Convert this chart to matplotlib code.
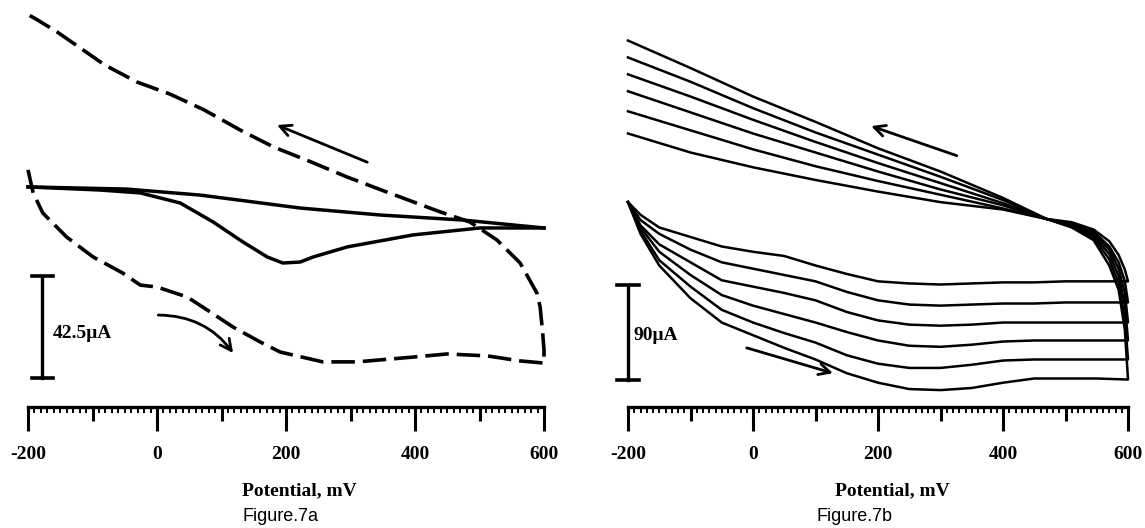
import matplotlib
matplotlib.use("Agg")
import matplotlib.pyplot as plt
from matplotlib.ticker import MultipleLocator

#########################################
# DATA  (potential in mV, current in uA)
#########################################
# Figure 7a, solid CV
a_solid_fwd_mv = [-200, -88, -26, 36, 87, 133, 171, 195, 222, 242, 295, 397, 501, 600]
a_solid_fwd_ua = [91.7, 90.4, 89.2, 85.0, 77.1, 68.8, 62.5, 60.0, 60.4, 62.5, 66.7, 71.7, 74.6, 74.6]
a_solid_rev_mv = [600, 474, 346, 222, 67, -47, -200]
a_solid_rev_ua = [74.6, 77.9, 80.0, 82.9, 88.3, 90.8, 91.7]

# Figure 7a, dashed CV
a_dash_fwd_mv = [-200, -192, -177, -140, -99, -53, -26, 0, 47, 78, 118, 160, 191, 257, 310,
                 397, 450, 512, 563, 600]
a_dash_fwd_ua = [98.8, 89.2, 80.8, 70.8, 62.5, 55.8, 50.8, 50.0, 45.8, 40.4, 33.3, 27.1, 22.9,
                 18.8, 18.8, 20.8, 22.1, 21.3, 19.2, 18.3]
a_dash_rev_mv = [600, 600, 598, 594, 589, 563, 527, 485, 439, 352, 295, 239, 181, 129, 73, 20,
                 -31, -81, -119, -155, -188, -200]
a_dash_rev_ua = [18.3, 23.8, 30.8, 41.7, 47.5, 60.0, 69.6, 77.1, 81.3, 90.0, 95.8, 102.1, 108.3,
                 115.4, 123.8, 130.4, 135.4, 142.5, 149.6, 156.3, 161.7, 163.5]

# Figure 7b, six cycles, outermost first
b_fwd_mv = [-200, -180, -150, -100, -50, 0, 50, 100, 150, 200, 250, 300, 350, 400, 450, 500, 550, 600]
b_fwd_ua = [
    [194, 164, 134, 103, 80, 68, 56, 45, 32, 23, 17, 16, 18, 23, 27, 27, 27, 26],
    [194, 167, 139, 114, 92, 80, 70, 61, 49, 41, 37, 37, 40, 44, 45, 45, 45, 45],
    [194, 170, 147, 125, 106, 96, 88, 80, 71, 63, 58, 57, 59, 62, 63, 63, 63, 63],
    [194, 172, 154, 137, 120, 114, 108, 101, 90, 82, 78, 77, 78, 80, 80, 80, 80, 80],
    [194, 177, 164, 149, 137, 131, 125, 119, 109, 101, 97, 96, 97, 98, 98, 99, 99, 99],
    [194, 182, 170, 161, 152, 147, 143, 134, 126, 119, 117, 116, 117, 118, 118, 119, 119, 119],
]
b_rev_right_mv = [600, 595, 585, 570, 545, 510]
b_rev_right_ua = [
    [26, 73, 111, 134, 158, 170],
    [45, 84, 117, 140, 160, 171],
    [63, 97, 124, 145, 162, 172],
    [80, 108, 131, 149, 164, 173],
    [99, 119, 137, 152, 166, 174],
    [119, 130, 144, 157, 168, 175],
]
b_rev_left_mv = [470, 400, 300, 200, 100, 0, -100, -200]
b_rev_left_ua = [
    [178, 198, 223, 245, 270, 294, 321, 347],
    [178, 196, 218, 239, 260, 283, 308, 331],
    [178, 193, 212, 231, 251, 272, 294, 315],
    [178, 191, 206, 223, 241, 259, 279, 299],
    [178, 188, 201, 214, 228, 244, 262, 280],
    [178, 187, 194, 204, 215, 227, 241, 259],
]

# scan direction arrows (tail, head, curvature)
a_arrows = [((326, 102), (186, 117.5), 0.0), ((2, 38.3), (118, 22.5), -0.25)]
b_arrows = [((326, 238), (189, 266), 0.0), ((-10, 56), (128, 32), 0.0)]

# scale bars: x, bottom, length, label, label x, label y
a_bar = (-178, 12.1, 42.5, "42.5\u03bcA", -161, 30.8)
b_bar = (-200, 25.6, 90.0, "90\u03bcA", -192, 68.0)

xticks_major = [-200, -100, 0, 100, 200, 300, 400, 500, 600]

#########################################
# FIGURE
#########################################
fig = plt.figure(figsize=(11.45, 5.28), dpi=100)
axa = fig.add_axes([28/1145, 121/528, 516/1145, 407/528])
axb = fig.add_axes([628/1145, 121/528, 500/1145, 407/528])

serif = ['Liberation Serif', 'DejaVu Serif']


def style_axis(ax, ytop):
    ax.set_xlim(-200, 600)
    ax.set_ylim(0, ytop)
    for s in ['left', 'right', 'top']:
        ax.spines[s].set_visible(False)
    ax.spines['bottom'].set_linewidth(2.4)
    ax.set_yticks([])
    ax.set_xticks(xticks_major)
    ax.set_xticklabels([str(v) if v % 200 == 0 else '' for v in xticks_major],
                       family=serif, fontweight='bold', fontsize=14)
    ax.xaxis.set_minor_locator(MultipleLocator(10))
    ax.tick_params(axis='x', which='major', direction='out', length=17, width=2.2, pad=11)
    ax.tick_params(axis='x', which='minor', direction='out', length=4.5, width=1.4)
    for v, t in zip(xticks_major, ax.xaxis.get_major_ticks()):
        if v % 200:
            t.tick1line.set_markersize(10)
    ax.patch.set_alpha(0)


def scale_bar(ax, bar, cap, fs):
    x, y0, L, txt, tx, ty = bar
    ax.plot([x, x], [y0, y0 + L], color='k', lw=2.4, clip_on=False)
    ax.plot([x - cap, x + cap], [y0, y0], color='k', lw=2.6, clip_on=False)
    ax.plot([x - cap, x + cap], [y0 + L, y0 + L], color='k', lw=2.6, clip_on=False)
    ax.text(tx, ty, txt, family=serif, fontweight='bold',
            fontsize=fs, va='center', ha='left')


def arrows(ax, arr):
    for tail, head, rad in arr:
        ax.annotate('', xy=head, xytext=tail,
                    arrowprops=dict(arrowstyle='->,head_length=0.8,head_width=0.4',
                                    lw=2.0, color='k', shrinkA=0, shrinkB=0,
                                    connectionstyle='arc3,rad=%g' % rad))


#########################################
# FIGURE 7a
#########################################
style_axis(axa, 407/2.4)
axa.plot(a_solid_fwd_mv, a_solid_fwd_ua, color='k', lw=2.5, solid_joinstyle='round', clip_on=False)
axa.plot(a_solid_rev_mv, a_solid_rev_ua, color='k', lw=2.5, solid_joinstyle='round', clip_on=False)
axa.plot(a_dash_fwd_mv + a_dash_rev_mv, a_dash_fwd_ua + a_dash_rev_ua, color='k', lw=2.6,
         dashes=(6.5, 2.2), clip_on=False)
scale_bar(axa, a_bar, 16, 14)
arrows(axa, a_arrows)
axa.text(0.525, -0.206, 'Potential, mV', transform=axa.transAxes, family=serif,
         fontweight='bold', fontsize=14, ha='center', va='center')
axa.text(0.490, -0.268, 'Figure.7a', transform=axa.transAxes, family='Liberation Sans',
         fontsize=13, ha='center', va='center')

#########################################
# FIGURE 7b
#########################################
style_axis(axb, 407/1.056)
for fwd, rr, rl in zip(b_fwd_ua, b_rev_right_ua, b_rev_left_ua):
    xs = b_fwd_mv + b_rev_right_mv + b_rev_left_mv
    ys = fwd + rr + rl
    axb.plot(xs, ys, color='k', lw=1.8, solid_joinstyle='round', clip_on=False)
scale_bar(axb, b_bar, 18, 14)
arrows(axb, b_arrows)
axb.text(0.529, -0.206, 'Potential, mV', transform=axb.transAxes, family=serif,
         fontweight='bold', fontsize=14, ha='center', va='center')
axb.text(0.453, -0.268, 'Figure.7b', transform=axb.transAxes, family='Liberation Sans',
         fontsize=13, ha='center', va='center')

#########################################
# SAVE FIGURE
#########################################
fig.savefig("out.png", dpi=100)
